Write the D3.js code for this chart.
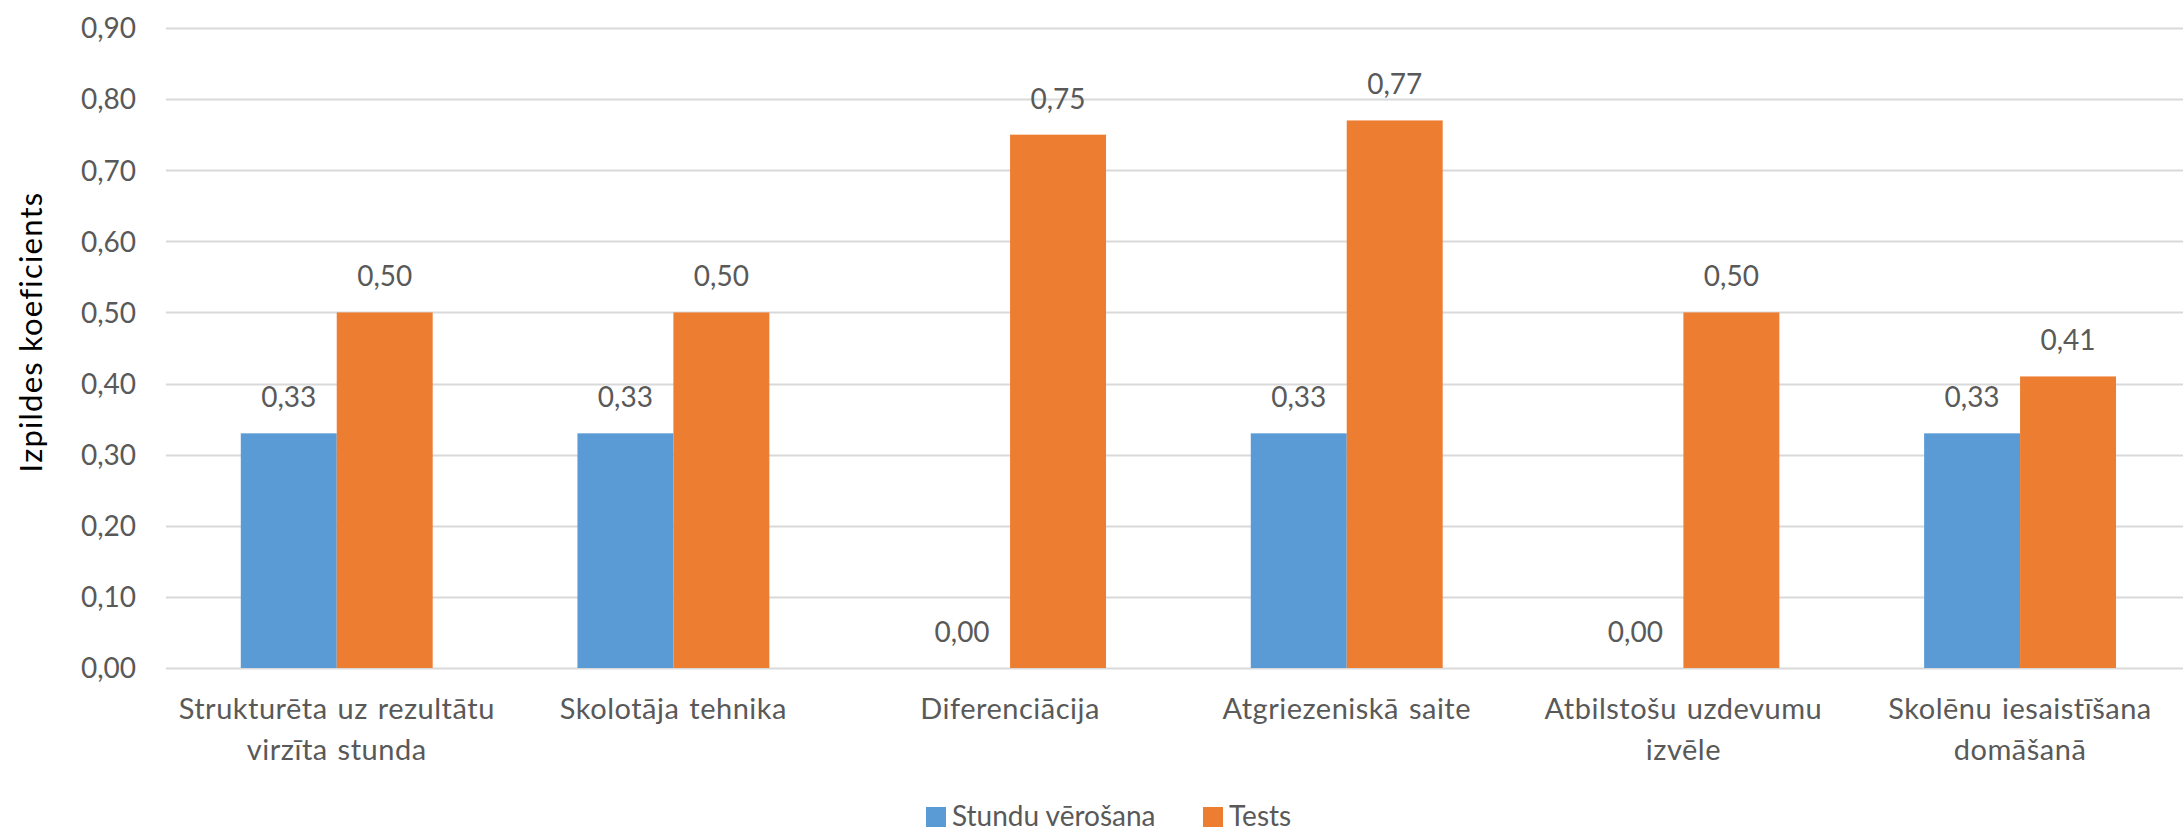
<!DOCTYPE html>
<html>
<head>
<meta charset="utf-8">
<script src="https://cdn.jsdelivr.net/npm/d3@7"></script>
<style>
  html, body { margin: 0; padding: 0; background: #fff; }
  svg { display: block; }
  text { font-family: Lato, "Open Sans", sans-serif; fill: #595959; }
</style>
</head>
<body>
<svg id="chart" width="2183" height="833"></svg>
<script>
const categories = [
  "Strukturēta uz rezultātu virzīta stunda",
  "Skolotāja tehnika",
  "Diferenciācija",
  "Atgriezeniskā saite",
  "Atbilstošu uzdevumu izvēle",
  "Skolēnu iesaistīšana domāšanā"
];
const categoryLines = [
  ["Strukturēta uz rezultātu", "virzīta stunda"],
  ["Skolotāja tehnika"],
  ["Diferenciācija"],
  ["Atgriezeniskā saite"],
  ["Atbilstošu uzdevumu", "izvēle"],
  ["Skolēnu iesaistīšana", "domāšanā"]
];
const seriesNames = ["Stundu vērošana", "Tests"];
const stunduVerosana = [0.33, 0.33, 0.00, 0.33, 0.00, 0.33];
const tests = [0.50, 0.50, 0.75, 0.77, 0.50, 0.41];
const yTicks = [0, 0.1, 0.2, 0.3, 0.4, 0.5, 0.6, 0.7, 0.8, 0.9];
const yTitle = "Izpildes koeficients";
const colors = ["#5B9BD5", "#ED7D31"];

const fmt = v => v.toFixed(2).replace(".", ",");
const svg = d3.select("#chart");
const FS = 28;

const y = d3.scaleLinear().domain([0, 0.9]).range([668, 28]);
const x = d3.scaleBand().domain(categories).range([168.4, 2188.4]).paddingInner(0.43).paddingOuter(0.215);
const xs = d3.scaleBand().domain(seriesNames).range([0, x.bandwidth()]);

// gridlines
svg.append("g").selectAll("line").data(yTicks).join("line")
  .attr("x1", 166).attr("x2", 2183)
  .attr("y1", d => Math.round(y(d)) + 0.5).attr("y2", d => Math.round(y(d)) + 0.5)
  .attr("stroke", "#D9D9D9").attr("stroke-width", 2);

// y axis labels
const yAxis = d3.axisLeft(y).tickValues(yTicks).tickFormat(fmt).tickSize(0).tickPadding(0);
const yg = svg.append("g").attr("transform", "translate(136,0)").call(yAxis);
yg.select(".domain").remove();
yg.selectAll("text").attr("font-size", FS).attr("font-family", "Lato").attr("fill", "#595959").attr("dy", "0.35em");

// y title
svg.append("text")
  .attr("transform", "translate(42,332) rotate(-90)")
  .attr("text-anchor", "middle")
  .attr("font-size", 31)
  .attr("letter-spacing", 1.2)
  .style("fill", "#000")
  .text(yTitle);

const data = categories.map((c, i) => ({ cat: c, vals: [stunduVerosana[i], tests[i]] }));

const groups = svg.append("g").selectAll("g").data(data).join("g")
  .attr("transform", d => `translate(${x(d.cat)},0)`);

groups.selectAll("rect").data(d => d.vals.map((v, j) => ({ v, s: seriesNames[j], j }))).join("rect")
  .attr("x", d => xs(d.s))
  .attr("width", xs.bandwidth())
  .attr("y", d => y(d.v))
  .attr("height", d => y(0) - y(d.v))
  .attr("fill", d => colors[d.j]);

groups.selectAll("text.lbl").data(d => d.vals.map((v, j) => ({ v, s: seriesNames[j], j }))).join("text")
  .attr("class", "lbl")
  .attr("x", d => xs(d.s) + xs.bandwidth() / 2)
  .attr("y", d => y(d.v) - 26)
  .attr("text-anchor", "middle")
  .attr("font-size", FS)
  .text(d => fmt(d.v));

// category labels
categories.forEach((c, i) => {
  const t = svg.append("text")
    .attr("x", x(c) + x.bandwidth() / 2)
    .attr("y", 719)
    .attr("text-anchor", "middle")
    .attr("font-size", 29)
    .attr("letter-spacing", 0.5)
    .attr("word-spacing", 2);
  categoryLines[i].forEach((ln, k) => {
    t.append("tspan").attr("x", x(c) + x.bandwidth() / 2).attr("y", 719 + k * 41).text(ln);
  });
});

// legend
const legendX = [926, 1203];
const lg = svg.append("g");
seriesNames.forEach((s, j) => {
  lg.append("rect").attr("x", legendX[j]).attr("y", 807).attr("width", 20).attr("height", 20).attr("fill", colors[j]);
  lg.append("text").attr("x", legendX[j] + 26).attr("y", 826).attr("font-size", FS).text(s);
});
</script>
</body>
</html>
